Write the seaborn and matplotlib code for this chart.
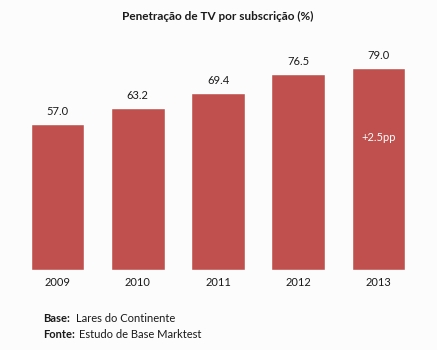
import matplotlib
matplotlib.use("Agg")
import matplotlib.pyplot as plt
import seaborn as sns
import pandas as pd

years = ["2009", "2010", "2011", "2012", "2013"]
values = [57.0, 63.2, 69.4, 76.5, 79.0]
value_labels = ["57.0", "63.2", "69.4", "76.5", "79.0"]
title = "Penetração de TV por subscrição (%)"
delta_label = "+2.5pp"

sns.set_theme(style="white")
plt.rcParams['font.family'] = ['Lato', 'DejaVu Sans']

bg = "#fcfcfc"
fig = plt.figure(figsize=(4.37, 3.5), dpi=100, facecolor=bg)
ax = fig.add_axes([17.4/437, 80/350, (418.6-17.4)/437, 220/350])
ax.set_facecolor(bg)

df = pd.DataFrame({"year": years, "value": values})
sns.barplot(data=df, x="year", y="value", color="#c0504d", saturation=1,
            width=0.67, ax=ax)
ax.set_xlim(-0.5, 4.5)
ax.set_ylim(0, 220/2.557)
for s in ax.spines.values():
    s.set_visible(False)
ax.set_yticks([])
ax.set_xlabel("")
ax.set_ylabel("")
ax.tick_params(axis="x", length=0, pad=5, labelsize=8, colors="#1a1a1a")

for i, (v, lab) in enumerate(zip(values, value_labels)):
    ax.annotate(lab, (i, v), xytext=(0, 5), textcoords="offset points",
                ha="center", va="bottom", fontsize=8, color="#1a1a1a")

ax.text(4, values[4] - 27, delta_label, ha="center", va="center",
        fontsize=8, color="white")

fig.text(217.5/437, 1 - 16/350, title, ha="center", va="center",
         fontsize=8.5, fontweight="bold", color="#1a1a1a")

fig.text(43/437, 1 - 319/350, "Base:", ha="left", va="center",
         fontsize=8, fontweight="bold", color="#1a1a1a")
fig.text(76/437, 1 - 319/350, "Lares do Continente", ha="left", va="center",
         fontsize=8, color="#1a1a1a")
fig.text(43/437, 1 - 334/350, "Fonte:", ha="left", va="center",
         fontsize=8, fontweight="bold", color="#1a1a1a")
fig.text(79/437, 1 - 334/350, "Estudo de Base Marktest", ha="left", va="center",
         fontsize=8, color="#1a1a1a")

fig.savefig("out.png", dpi=100, facecolor=bg)
